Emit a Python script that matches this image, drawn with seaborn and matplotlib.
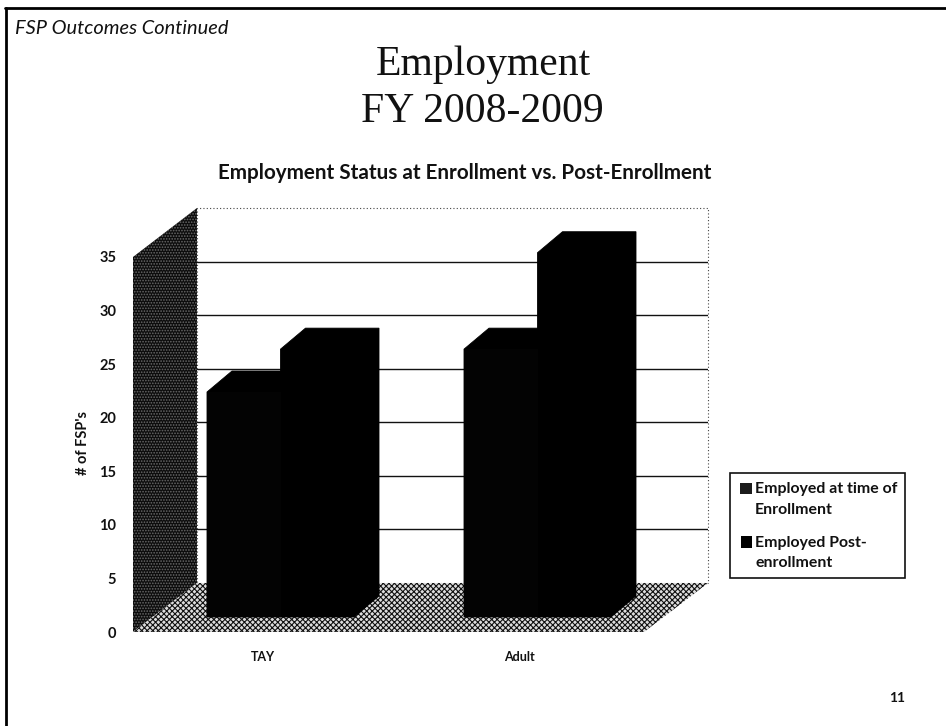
import matplotlib
matplotlib.use("Agg")
import matplotlib.pyplot as plt
from matplotlib.patches import Polygon, Rectangle
from matplotlib.transforms import ScaledTranslation
import pandas as pd
import seaborn as sns

categories = ["TAY", "Adult"]
series_names = ["Employed at time of\nEnrollment", "Employed Post-\nenrollment"]
at_enrollment = [21, 25]
post_enrollment = [25, 34]
y_ticks = [0, 5, 10, 15, 20, 25, 30, 35]

W, H = 946, 726
plt.rcParams["hatch.linewidth"] = 0.8
sns.set_theme(style="white")
plt.rcParams["font.family"] = ["Lato", "DejaVu Sans"]
fig = plt.figure(figsize=(W / 100, H / 100), dpi=100, facecolor="white")

# axes spanning the front plane: y=0 at px 632, y=35 at px 257
px_per_unit = (632 - 257) / 35
x0, x1 = 133, 708
ytop_px = 200
ax = fig.add_axes([x0 / W, 1 - 632 / H, (x1 - x0) / W, (632 - ytop_px) / H])
ax.set_ylim(0, (632 - ytop_px) / px_per_unit)
cat_px = 257
c0 = 280.5
ax.set_xlim((x0 - c0) / cat_px, (x1 - c0) / cat_px)
ax.patch.set_alpha(0)
sns.despine(ax=ax, left=True, bottom=True, top=True, right=True)

dx_px, dy_px = 64, 49          # chart depth
dxu = dx_px / cat_px
dyu = dy_px / px_per_unit
xa, xb = ax.get_xlim()
# back wall
ax.add_patch(Rectangle((xa + dxu, dyu), xb - xa - dxu, 35, fc="white", ec="#444444", lw=0.8, ls=(0, (1, 2)),
                       zorder=0, clip_on=False))
for t in y_ticks[1:-1]:
    ax.plot([xa + dxu, xb], [t + dyu, t + dyu], color="#111111", lw=1, zorder=1)
# left wall
ax.add_patch(Polygon([(xa, 0), (xa + dxu, dyu), (xa + dxu, 35 + dyu), (xa, 35)], fc="#0c0c0c", ec="#6a6a6a",
                     hatch="......", lw=0, zorder=1))
# floor
ax.add_patch(Polygon([(xa, 0), (xa + dxu, dyu), (xb, dyu), (xb - dxu, 0)], fc="#dddddd", ec="#111111",
                     hatch="xxxxxx", lw=0, zorder=1))

df = pd.DataFrame({
    "cat": categories * 2,
    "value": at_enrollment + post_enrollment,
    "series": [series_names[0]] * 2 + [series_names[1]] * 2,
})
bottom_off = 15 / px_per_unit
sns.barplot(data=df, x="cat", y="value", hue="series", order=categories, hue_order=series_names,
            palette=["#030303", "#000000"], width=147 / cat_px, gap=0, bottom=bottom_off,
            saturation=1, ax=ax, legend=False, zorder=3, linewidth=0)
ax.set_xlim(xa, xb)
ax.set_ylim(0, (632 - ytop_px) / px_per_unit)

# 3-D sides derived from each drawn bar
bdx = 25 / cat_px
bdy = 21 / px_per_unit
for bar in list(ax.patches):
    if not isinstance(bar, Rectangle) or bar.get_zorder() != 3:
        continue
    l, r = bar.get_x(), bar.get_x() + bar.get_width()
    b, t = bar.get_y(), bar.get_y() + bar.get_height()
    ax.add_patch(Polygon([(l, b), (l, t), (l + bdx, t + bdy), (r + bdx, t + bdy), (r + bdx, b + bdy), (r, b)],
                         fc="#000000", ec="#000000", lw=0.6, zorder=2.5))

ax.set_xlabel("")
ax.set_ylabel("# of FSP's", fontsize=10.5, fontweight="bold", color="#111111")
ax.yaxis.set_label_coords((90 - x0) / (x1 - x0), (632 - 443) / (632 - ytop_px))
ax.set_yticks(y_ticks)
ax.tick_params(axis="y", length=0, pad=12, labelsize=10.5, labelcolor="#111111")
ax.tick_params(axis="x", length=0, pad=14, labelsize=9, labelcolor="#111111")
for lab in ax.get_yticklabels():
    lab.set_fontweight("bold")
for lab in ax.get_xticklabels():
    lab.set_fontweight("bold")
    lab.set_transform(lab.get_transform() + ScaledTranslation(-18 / 100, 0, fig.dpi_scale_trans))

def T(x, y, s, **kw):
    fig.text(x / W, 1 - y / H, s, **kw)

T(15, 28, "FSP Outcomes Continued", fontsize=14.4, style="italic", color="#111111", va="center")
T(483, 75, "Employment", fontsize=30, family="Liberation Serif", color="#111111", ha="center", va="baseline")
T(482, 122, "FY 2008-2009", fontsize=30, family="Liberation Serif", color="#111111", ha="center", va="baseline")
T(464.5, 173, "Employment Status at Enrollment vs. Post-Enrollment", fontsize=14.9, fontweight="bold", color="#111111",
  ha="center", va="center")
T(889, 697.5, "11", fontsize=10, fontweight="bold", color="#111111", ha="left", va="center")

# legend box
fig.add_artist(Rectangle((730 / W, 1 - 578 / H), 175 / W, 105 / H, transform=fig.transFigure, fc="white", ec="#111111", lw=1.2))
fig.add_artist(Rectangle((740 / W, 1 - 494 / H), 12 / W, 11 / H, transform=fig.transFigure, fc="#1c1c1c", ec="none"))
fig.add_artist(Rectangle((741 / W, 1 - 548 / H), 11 / W, 12 / H, transform=fig.transFigure, fc="black", ec="none"))
T(755, 499.5, series_names[0], fontsize=11.4, fontweight="bold", color="#111111", va="center", linespacing=1.55)
T(755, 553, series_names[1], fontsize=11.4, fontweight="bold", color="#111111", va="center", linespacing=1.55)

# page border (top and left only)
fig.add_artist(plt.Line2D([6 / W, 6 / W], [0, 1 - 8 / H], color="black", lw=2))
fig.add_artist(plt.Line2D([5 / W, 1], [1 - 8 / H, 1 - 8 / H], color="black", lw=2))
fig.savefig("out.png", dpi=100)
